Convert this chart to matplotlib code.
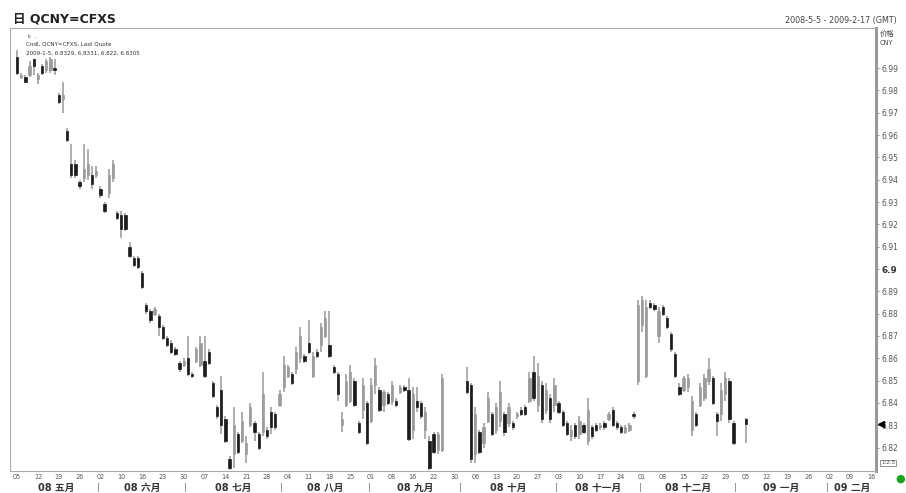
import numpy as np
import pandas as pd
import matplotlib
matplotlib.use('Agg')
import matplotlib.pyplot as plt
import matplotlib.transforms as mtransforms

plt.rcParams['font.family'] = ['DejaVu Sans', 'Noto Sans CJK SC']

nan = np.nan
# daily OHLC, one slot per weekday from 2008-05-05 to 2009-01-05 (nan = no quote)
opens = [
    6.995, 6.986, 6.986, 6.987, 6.994, 6.985, 6.991, 6.989, 6.989, 6.990,
    6.978, 6.976, 6.962, 6.947, 6.947, 6.939, 6.941, 6.942, 6.942, 6.942,
    6.936, 6.929, 6.934, 6.941, 6.925, 6.924, 6.924, 6.910, 6.905, 6.905,
    6.898, 6.884, 6.881, 6.880, 6.879, 6.874, 6.869, 6.867, 6.864, 6.858,
    6.857, 6.860, 6.853, 6.859, 6.857, 6.859, 6.863, 6.849, 6.838, 6.846,
    6.833, 6.815, 6.817, 6.826, 6.823, 6.817, 6.830, 6.831, 6.826, 6.827,
    6.828, 6.836, 6.835, 6.839, 6.847, 6.852, 6.853, 6.855, 6.860, 6.861,
    6.867, 6.852, 6.863, 6.866, 6.870, 6.866, 6.856, 6.853, 6.830, 6.839,
    6.841, 6.850, 6.831, 6.837, 6.840, 6.832, 6.848, 6.846, 6.839, 6.844,
    6.841, 6.841, 6.845, 6.847, 6.846, 6.828, 6.841, 6.840, 6.828, 6.823,
    6.826, 6.819, 6.819, nan, nan, nan, nan, nan, 6.850, 6.848,
    6.817, 6.827, 6.822, 6.832, 6.835, 6.828, 6.832, 6.835, 6.831, 6.831,
    6.834, 6.837, 6.838, 6.841, 6.854, 6.839, 6.848, 6.837, 6.842, 6.839,
    6.840, 6.836, 6.831, 6.825, 6.830, 6.826, 6.830, 6.823, 6.829, 6.830,
    6.829, 6.831, 6.833, 6.837, 6.831, 6.829, 6.827, 6.828, 6.835, 6.850,
    6.875, 6.852, 6.885, 6.884, 6.870, 6.883, 6.878, 6.871, 6.862, 6.847,
    6.846, 6.847, 6.828, 6.835, 6.839, 6.842, 6.850, 6.851, 6.835, 6.835,
    6.844, 6.850, 6.831, nan, nan, 6.8329]
highs = [
    6.998, 6.988, 6.987, 6.993, 6.994, 6.988, 6.992, 6.994, 6.995, 6.994,
    6.979, 6.984, 6.963, 6.956, 6.949, 6.940, 6.956, 6.954, 6.946, 6.946,
    6.937, 6.930, 6.945, 6.949, 6.926, 6.926, 6.925, 6.912, 6.906, 6.906,
    6.899, 6.885, 6.882, 6.883, 6.880, 6.875, 6.870, 6.868, 6.865, 6.859,
    6.860, 6.870, 6.854, 6.865, 6.870, 6.870, 6.864, 6.850, 6.839, 6.852,
    6.834, 6.816, 6.838, 6.827, 6.836, 6.825, 6.840, 6.832, 6.827, 6.854,
    6.829, 6.838, 6.836, 6.846, 6.861, 6.857, 6.854, 6.865, 6.874, 6.862,
    6.877, 6.863, 6.864, 6.876, 6.881, 6.881, 6.857, 6.854, 6.836, 6.853,
    6.857, 6.851, 6.832, 6.851, 6.841, 6.851, 6.860, 6.847, 6.846, 6.845,
    6.850, 6.842, 6.848, 6.848, 6.851, 6.847, 6.847, 6.841, 6.838, 6.825,
    6.827, 6.827, 6.853, nan, nan, nan, nan, nan, 6.856, 6.849,
    6.838, 6.828, 6.831, 6.845, 6.836, 6.840, 6.850, 6.836, 6.840, 6.832,
    6.836, 6.838, 6.839, 6.854, 6.861, 6.858, 6.850, 6.849, 6.844, 6.851,
    6.841, 6.837, 6.832, 6.830, 6.831, 6.834, 6.831, 6.842, 6.830, 6.831,
    6.831, 6.832, 6.836, 6.838, 6.832, 6.830, 6.830, 6.831, 6.836, 6.886,
    6.888, 6.886, 6.886, 6.885, 6.883, 6.884, 6.879, 6.872, 6.863, 6.849,
    6.852, 6.853, 6.843, 6.836, 6.849, 6.853, 6.860, 6.852, 6.836, 6.849,
    6.854, 6.851, 6.832, nan, nan, 6.8331]
lows = [
    6.987, 6.985, 6.984, 6.986, 6.987, 6.983, 6.987, 6.988, 6.988, 6.987,
    6.974, 6.970, 6.957, 6.941, 6.941, 6.936, 6.939, 6.940, 6.936, 6.941,
    6.932, 6.925, 6.932, 6.939, 6.922, 6.914, 6.917, 6.905, 6.901, 6.900,
    6.891, 6.880, 6.876, 6.879, 6.870, 6.868, 6.865, 6.862, 6.861, 6.854,
    6.856, 6.852, 6.851, 6.858, 6.856, 6.851, 6.857, 6.842, 6.833, 6.826,
    6.822, 6.810, 6.811, 6.817, 6.822, 6.813, 6.829, 6.823, 6.819, 6.825,
    6.824, 6.826, 6.828, 6.838, 6.845, 6.851, 6.848, 6.853, 6.858, 6.858,
    6.862, 6.851, 6.860, 6.863, 6.869, 6.860, 6.853, 6.841, 6.827, 6.838,
    6.840, 6.838, 6.826, 6.833, 6.821, 6.831, 6.844, 6.836, 6.836, 6.839,
    6.839, 6.838, 6.844, 6.845, 6.823, 6.824, 6.836, 6.833, 6.824, 6.810,
    6.817, 6.817, 6.818, nan, nan, nan, nan, nan, 6.844, 6.813,
    6.813, 6.817, 6.820, 6.831, 6.825, 6.826, 6.829, 6.825, 6.829, 6.828,
    6.833, 6.834, 6.834, 6.840, 6.841, 6.836, 6.831, 6.835, 6.831, 6.836,
    6.835, 6.829, 6.825, 6.823, 6.824, 6.824, 6.826, 6.821, 6.824, 6.827,
    6.828, 6.828, 6.832, 6.829, 6.828, 6.826, 6.826, 6.827, 6.833, 6.848,
    6.872, 6.851, 6.882, 6.881, 6.867, 6.879, 6.873, 6.863, 6.851, 6.843,
    6.845, 6.845, 6.825, 6.829, 6.838, 6.841, 6.848, 6.839, 6.825, 6.832,
    6.841, 6.831, 6.821, nan, nan, 6.822]
closes = [
    6.988, 6.987, 6.984, 6.991, 6.991, 6.987, 6.988, 6.993, 6.994, 6.989,
    6.975, 6.978, 6.958, 6.942, 6.942, 6.937, 6.945, 6.947, 6.938, 6.944,
    6.933, 6.926, 6.942, 6.947, 6.923, 6.918, 6.918, 6.906, 6.902, 6.901,
    6.892, 6.881, 6.877, 6.882, 6.874, 6.869, 6.866, 6.863, 6.862, 6.855,
    6.859, 6.853, 6.852, 6.864, 6.867, 6.852, 6.858, 6.843, 6.834, 6.830,
    6.823, 6.811, 6.830, 6.818, 6.832, 6.822, 6.838, 6.827, 6.820, 6.844,
    6.825, 6.829, 6.829, 6.844, 6.857, 6.856, 6.849, 6.863, 6.870, 6.859,
    6.863, 6.861, 6.861, 6.874, 6.878, 6.861, 6.854, 6.844, 6.833, 6.850,
    6.854, 6.839, 6.827, 6.848, 6.822, 6.848, 6.857, 6.837, 6.845, 6.840,
    6.848, 6.839, 6.847, 6.846, 6.824, 6.844, 6.838, 6.834, 6.836, 6.811,
    6.818, 6.826, 6.851, nan, nan, nan, nan, nan, 6.845, 6.815,
    6.835, 6.818, 6.829, 6.842, 6.826, 6.838, 6.845, 6.827, 6.838, 6.829,
    6.835, 6.835, 6.835, 6.851, 6.842, 6.852, 6.833, 6.846, 6.833, 6.848,
    6.836, 6.830, 6.826, 6.828, 6.825, 6.832, 6.827, 6.837, 6.825, 6.828,
    6.830, 6.829, 6.835, 6.830, 6.829, 6.827, 6.829, 6.830, 6.834, 6.884,
    6.886, 6.883, 6.883, 6.882, 6.881, 6.880, 6.874, 6.864, 6.852, 6.844,
    6.851, 6.851, 6.841, 6.830, 6.847, 6.851, 6.855, 6.840, 6.832, 6.846,
    6.851, 6.833, 6.822, nan, nan, 6.8305]

# x-axis (weekly) tick labels, one per week starting 2008-05-05
week_labels = ['05', '12', '19', '26', '02', '10', '16', '23', '30', '07',
               '14', '21', '28', '04', '11', '18', '25', '01', '08', '16',
               '22', '30', '06', '13', '20', '27', '03', '10', '17', '24',
               '01', '08', '15', '22', '29', '05', '12', '19', '26', '02',
               '09', '16']
month_labels = ['08 五月', '08 六月', '08 七月', '08 八月', '08 九月', '08 十月',
                '08 十一月', '08 十二月', '09 一月', '09 二月']
ytick_values = [6.82, 6.83, 6.84, 6.85, 6.86, 6.87, 6.88, 6.89, 6.90,
                6.91, 6.92, 6.93, 6.94, 6.95, 6.96, 6.97, 6.98, 6.99]
ytick_labels = ['6.82', '6.83', '6.84', '6.85', '6.86', '6.87', '6.88', '6.89', '6.9',
                '6.91', '6.92', '6.93', '6.94', '6.95', '6.96', '6.97', '6.98', '6.99']
start_date, end_date = '2008-05-05', '2009-02-17'

o = np.array(opens, float)
h = np.array(highs, float)
l = np.array(lows, float)
c = np.array(closes, float)
xs = np.arange(len(o))
ok = ~np.isnan(o)

W, H = 906, 493
fig = plt.figure(figsize=(W / 100, H / 100), dpi=100)
fig.patch.set_facecolor('white')
ax = fig.add_axes([10 / W, 1 - 471 / H, 866 / W, 443 / H])
ax.set_facecolor('white')

# wicks
ax.vlines(xs[ok], l[ok], h[ok], color='#a8a8a8', linewidth=1.3, zorder=2)
# bodies
up = ok & (c >= o)
dn = ok & (c < o)
ax.bar(xs[up], c[up] - o[up], bottom=o[up], width=0.55, color='#9c9c9c',
       edgecolor='#9c9c9c', linewidth=0.5, zorder=3)
ax.bar(xs[dn], c[dn] - o[dn], bottom=o[dn], width=0.55, color='#1c1c1c',
       edgecolor='#1c1c1c', linewidth=0.5, zorder=3)

ax.set_xlim(-1.7, 206.2)
ax.set_ylim(6.8095, 7.008)

# y axis on right
ax.yaxis.tick_right()
ax.set_yticks(ytick_values)
ax.set_yticklabels(ytick_labels)
ax.tick_params(axis='y', direction='out', length=2.5, width=0.6, colors='#777',
               labelsize=5.5, labelcolor='#555', pad=1.5)
for t in ax.get_yticklabels():
    if t.get_text() == '6.9':
        t.set_fontweight('bold')
        t.set_fontsize(6.3)
        t.set_color('#333')

# x axis: weekly labels
ax.set_xticks(np.arange(len(week_labels)) * 5)
ax.set_xticklabels(week_labels)
ax.tick_params(axis='x', length=0, labelsize=4.7, labelcolor='#555', pad=2)

# month labels and separators
bd = pd.bdate_range(start_date, end_date)
mstarts = [i for i in range(1, len(bd)) if bd[i].month != bd[i - 1].month]
bounds = [-0.5] + [m - 0.5 for m in mstarts] + [len(bd) - 0.5]
trans = mtransforms.blended_transform_factory(ax.transData, ax.transAxes)
ylab = -(488 - 471) / 443
for i, lab in enumerate(month_labels):
    cx = (bounds[i] + bounds[i + 1]) / 2
    ax.text(cx, ylab, lab, transform=trans, ha='center', va='center',
            fontsize=7, fontweight='bold', color='#333')
for m in mstarts:
    ax.text(m - 0.5, ylab, '|', transform=trans, ha='center', va='center',
            fontsize=5.5, color='#555')

for s in ['left', 'top', 'bottom']:
    ax.spines[s].set_color('#aaaaaa')
    ax.spines[s].set_linewidth(0.8)
ax.spines['right'].set_color('#999999')
ax.spines['right'].set_linewidth(2.2)

# last quote marker
tr_y = mtransforms.blended_transform_factory(ax.transAxes, ax.transData)
ax.plot([1.0 + 5 / 866], [c[-1]], marker='<', markersize=4, color='black',
        transform=tr_y, clip_on=False)

# texts
fig.text(13 / W, 1 - 19 / H, '日 QCNY=CFXS', fontsize=9, fontweight='bold',
         color='#222', ha='left', va='center')
fig.text(785 / W, 1 - 20 / H, '2008-5-5 - 2009-2-17 (GMT)', fontsize=5.8,
         color='#444', ha='left', va='center')
fig.text(880 / W, 1 - 33 / H, '价格', fontsize=5.3, color='#444', ha='left', va='center')
fig.text(880 / W, 1 - 43 / H, 'CNY', fontsize=4.8, color='#444', ha='left', va='center')
fig.text(28 / W, 1 - 36 / H, 'k  .', fontsize=4, color='#555', ha='left', va='center')
fig.text(26 / W, 1 - 44 / H, 'Cndl, QCNY=CFXS, Last Quote', fontsize=4.1,
         color='#333', ha='left', va='center')
fig.text(26 / W, 1 - 53 / H, '2009-1-5, 6.8329, 6.8331, 6.822, 6.8305', fontsize=4.1,
         color='#333', ha='left', va='center')
fig.text(881 / W, 1 - 463 / H, '1:2.5', fontsize=4, color='#444', ha='left', va='center',
         bbox=dict(boxstyle='square,pad=0.15', fc='white', ec='#666', lw=0.5))
fig.text(900 / W, 1 - 479 / H, '●', fontsize=8, color='#1fa31f', ha='center', va='center')

fig.savefig('out.png', dpi=100, facecolor='white')
